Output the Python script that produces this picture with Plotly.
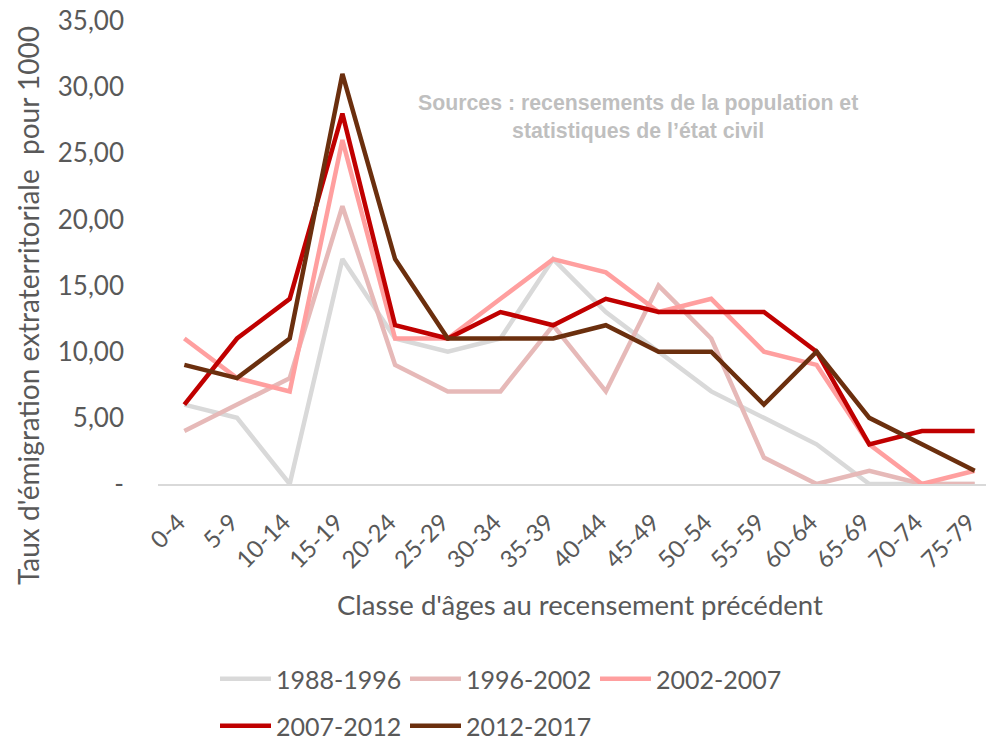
import plotly.graph_objects as go

categories = ["0-4", "5-9", "10-14", "15-19", "20-24", "25-29", "30-34", "35-39",
              "40-44", "45-49", "50-54", "55-59", "60-64", "65-69", "70-74", "75-79"]

s_1988_1996 = [6, 5, 0, 17, 11, 10, 11, 17, 13, 10, 7, 5, 3, 0, 0, 0]
s_1996_2002 = [4, 6, 8, 21, 9, 7, 7, 12, 7, 15, 11, 2, 0, 1, 0, 0]
s_2002_2007 = [11, 8, 7, 26, 11, 11, 14, 17, 16, 13, 14, 10, 9, 3, 0, 1]
s_2007_2012 = [6, 11, 14, 28, 12, 11, 13, 12, 14, 13, 13, 13, 10, 3, 4, 4]
s_2012_2017 = [9, 8, 11, 31, 17, 11, 11, 11, 12, 10, 10, 6, 10, 5, 3, 1]

series_names = ["1988-1996", "1996-2002", "2002-2007", "2007-2012", "2012-2017"]
series_values = [s_1988_1996, s_1996_2002, s_2002_2007, s_2007_2012, s_2012_2017]
series_colors = ["#D9D9D9", "#E6B9B8", "#FF9F9F", "#C00000", "#6B2F0E"]
series_legend = ["legend", "legend", "legend", "legend2", "legend2"]

y_tickvals = [0, 5, 10, 15, 20, 25, 30, 35]
y_ticktext = ["-", "5,00", "10,00", "15,00", "20,00", "25,00", "30,00", "35,00"]

FONT = "Lato, 'Open Sans', sans-serif"
TXT = "#595959"

# plot area in pixels
L, R, T, B = 158, 0, 21, 257
W_PLOT = 986 - L - R
H_PLOT = 741 - T - B
Y0 = 741 - B  # pixel row of y = 0


def px_x(x):
    return (x - L) / W_PLOT


def px_y(y):
    return (Y0 - y) / H_PLOT


fig = go.Figure()
for name, vals, col, lg in zip(series_names, series_values, series_colors, series_legend):
    fig.add_trace(go.Scatter(
        x=categories, y=vals, mode="lines", name=name,
        line=dict(color=col, width=4.5), legend=lg,
    ))

LEG = dict(orientation="h", xanchor="left", yanchor="middle",
           font=dict(size=25, color=TXT), itemwidth=51, entrywidth=124,
           bgcolor="rgba(0,0,0,0)")

fig.update_layout(
    width=986, height=741,
    margin=dict(l=L, r=R, t=T, b=B, autoexpand=False),
    paper_bgcolor="white", plot_bgcolor="white",
    font=dict(family=FONT, color=TXT, size=26),
    showlegend=True,
    legend=dict(LEG, x=px_x(215), y=px_y(679)),
    legend2=dict(LEG, x=px_x(215), y=px_y(726)),
    annotations=[
        dict(text="<b>Sources : recensements de la population et<br>statistiques de l’état civil</b>",
             x=px_x(638), y=px_y(117), xref="paper", yref="paper", showarrow=False,
             font=dict(family="'Liberation Sans', Arial, sans-serif", size=21.3, color="#BFBFBF"),
             align="center", xanchor="center", yanchor="middle"),
        dict(text="Classe d'âges au recensement précédent",
             x=px_x(580), y=px_y(604), xref="paper", yref="paper", showarrow=False,
             font=dict(size=27.5, color=TXT), xanchor="center", yanchor="middle"),
        dict(text="Taux d'émigration extraterritoriale\u00a0 pour 1000",
             x=px_x(28), y=px_y(306), xref="paper", yref="paper", showarrow=False, textangle=-90,
             font=dict(size=28, color=TXT), xanchor="center", yanchor="middle"),
    ],
)

fig.update_xaxes(
    type="category", range=[-0.5, 15.215], automargin=False,
    tickangle=-45, tickfont=dict(size=24, color=TXT),
    ticklabelstandoff=13, ticklabelshift=-6,
    showgrid=False, showline=True, linecolor="#D9D9D9", linewidth=1.5,
    ticks="", zeroline=False,
)
fig.update_yaxes(
    range=[0, 35], tickvals=y_tickvals, ticktext=y_ticktext, automargin=False,
    tickfont=dict(size=26, color=TXT),
    showgrid=False, zeroline=False, showline=False, ticks="",
    ticklabelstandoff=33,
)

fig.write_html("out.html", config={"displayModeBar": False},
               post_script="document.body.style.margin='0px';document.body.style.overflow='hidden';")
